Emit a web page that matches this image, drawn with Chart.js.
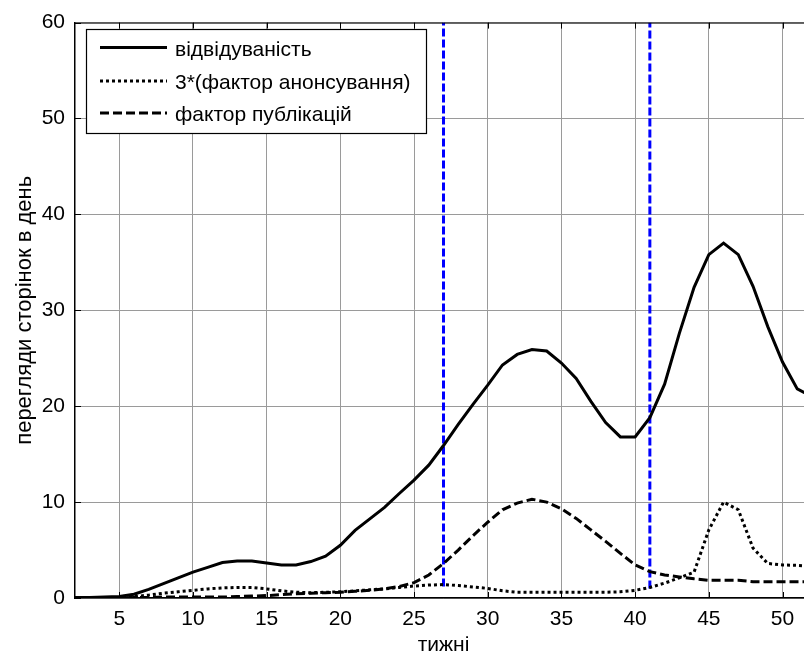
<!DOCTYPE html>
<html>
<head>
<meta charset="utf-8">
<script src="https://cdn.jsdelivr.net/npm/chart.js@4/dist/chart.umd.min.js"></script>
<style>
  html, body { margin: 0; padding: 0; background: #fff; overflow: hidden; }
  #wrap { width: 812px; height: 659px; }
</style>
</head>
<body>
<div id="wrap"><canvas id="chart" width="812" height="659"></canvas></div>
<script>
// тижні 2..52
const weeks = [];
for (let w = 2; w <= 52; w++) weeks.push(w);

// відвідуваність
const visits = [
  0.05, 0.05, 0.1, 0.15, 0.4, 0.9, 1.5, 2.1, 2.7, 3.2,
  3.7, 3.85, 3.85, 3.65, 3.45, 3.45, 3.8, 4.35, 5.5, 7.05,
  8.25, 9.45, 10.9, 12.3, 13.85, 15.9, 18.1, 20.2, 22.2, 24.3,
  25.4, 25.9, 25.75, 24.5, 22.9, 20.5, 18.3, 16.8, 16.8, 18.8,
  22.3, 27.6, 32.4, 35.8, 37.0, 35.8, 32.5, 28.3, 24.6, 21.8,
  21.0
];

// 3*(фактор анонсування)
const announce3 = [
  0, 0, 0, 0.05, 0.15, 0.3, 0.5, 0.65, 0.8, 0.95,
  1.05, 1.1, 1.1, 0.95, 0.75, 0.6, 0.55, 0.6, 0.65, 0.75,
  0.85, 0.95, 1.1, 1.25, 1.35, 1.4, 1.3, 1.15, 1.0, 0.75,
  0.6, 0.6, 0.6, 0.6, 0.6, 0.6, 0.6, 0.65, 0.8, 1.1,
  1.55, 2.1, 2.7, 7.1, 10.0, 9.2, 5.2, 3.6, 3.45, 3.4,
  3.3
];

// фактор публікацій
const publications = [
  0, 0, 0, 0, 0.05, 0.05, 0.1, 0.1, 0.1, 0.1,
  0.1, 0.15, 0.2, 0.25, 0.35, 0.45, 0.5, 0.55, 0.6, 0.7,
  0.8, 0.95, 1.2, 1.6, 2.4, 3.6, 5.0, 6.5, 7.9, 9.2,
  9.9, 10.3, 10.0, 9.3, 8.3, 7.1, 5.9, 4.65, 3.45, 2.75,
  2.4, 2.2, 2.0, 1.85, 1.85, 1.85, 1.7, 1.7, 1.7, 1.7,
  1.7
];

// вертикальні маркери (тижні) та їх нижні межі
const markerWeeks = [27, 41];
const markerBottoms = [1.2, 1.0];
const markerTop = 60;

const seriesLabels = ['відвідуваність', '3*(фактор анонсування)', 'фактор публікацій'];
const xTicks = [5, 10, 15, 20, 25, 30, 35, 40, 45, 50];
const yTicks = [0, 10, 20, 30, 40, 50, 60];

const FONT = '"Liberation Sans", Arial, sans-serif';
const FS = 21;

function pts(ys) {
  return weeks.map((w, i) => ({ x: w, y: ys[i] }));
}

const datasets = [
  { label: seriesLabels[0], data: pts(visits), borderColor: '#000', borderWidth: 3, borderDash: [] },
  { label: seriesLabels[1], data: pts(announce3), borderColor: '#000', borderWidth: 3, borderDash: [3, 3] },
  { label: seriesLabels[2], data: pts(publications), borderColor: '#000', borderWidth: 3, borderDash: [9, 4] }
];
markerWeeks.forEach((w, i) => {
  datasets.push({
    label: 'marker' + i,
    data: [{ x: w, y: markerBottoms[i] }, { x: w, y: markerTop }],
    borderColor: '#0000ff', borderWidth: 3, borderDash: [8, 3]
  });
});
datasets.forEach(d => { d.pointRadius = 0; d.fill = false; d.tension = 0; d.borderCapStyle = 'butt'; });

// рамка, внутрішні риски та легенда у стилі MATLAB
const frame = {
  id: 'frame',
  afterDraw(chart) {
    const { ctx, chartArea: a, scales } = chart;
    ctx.save();
    ctx.strokeStyle = '#000';
    ctx.lineWidth = 1;
    ctx.beginPath();
    ctx.moveTo(a.left, a.top + 0.5); ctx.lineTo(a.right, a.top + 0.5);
    ctx.stroke();
    ctx.beginPath();
    xTicks.forEach(v => {
      const x = Math.round(scales.x.getPixelForValue(v)) + 0.5;
      ctx.moveTo(x, a.top); ctx.lineTo(x, a.top + 6);
      ctx.moveTo(x, a.bottom); ctx.lineTo(x, a.bottom - 6);
    });
    yTicks.forEach(v => {
      const y = Math.round(scales.y.getPixelForValue(v)) + 0.5;
      ctx.moveTo(a.left, y); ctx.lineTo(a.left + 6, y);
    });
    ctx.stroke();

    // легенда
    const bx = 86.5, by = 29.5, bw = 340, bh = 104;
    ctx.fillStyle = '#fff';
    ctx.fillRect(bx, by, bw, bh);
    ctx.lineWidth = 1.2;
    ctx.strokeRect(bx, by, bw, bh);
    ctx.font = FS + 'px ' + FONT;
    ctx.textBaseline = 'alphabetic';
    ctx.fillStyle = '#000';
    const rowsY = [47.5, 81, 113];
    for (let i = 0; i < 3; i++) {
      const ds = chart.data.datasets[i];
      ctx.beginPath();
      ctx.lineWidth = ds.borderWidth;
      ctx.setLineDash(ds.borderDash);
      ctx.moveTo(100, rowsY[i]); ctx.lineTo(167, rowsY[i]);
      ctx.stroke();
      ctx.setLineDash([]);
      ctx.fillText(seriesLabels[i], 175, rowsY[i] + 8);
    }
    ctx.restore();
  }
};

new Chart(document.getElementById('chart'), {
  type: 'line',
  data: { datasets },
  plugins: [frame],
  options: {
    responsive: false,
    animation: false,
    layout: { padding: { top: 17, right: 0, bottom: 0, left: 0 } },
    plugins: { legend: { display: false }, tooltip: { enabled: false } },
    scales: {
      x: {
        type: 'linear', min: 2, max: 52,
        afterFit(s) { s.height = 61; },
        afterBuildTicks(s) { s.ticks = xTicks.map(v => ({ value: v })); },
        grid: { color: '#9a9a9a', lineWidth: 1, drawTicks: false },
        border: { display: true, color: '#000', width: 1.5 },
        ticks: { color: '#000', font: { family: FONT, size: FS }, padding: 9, maxRotation: 0 },
        title: { display: true, text: 'тижні', color: '#000', font: { family: FONT, size: FS }, padding: { top: 0, bottom: 1 } }
      },
      y: {
        type: 'linear', min: 0, max: 60,
        afterFit(s) { s.width = 75; },
        afterBuildTicks(s) { s.ticks = yTicks.map(v => ({ value: v })); },
        grid: { color: '#9a9a9a', lineWidth: 1, drawTicks: false },
        border: { display: true, color: '#000', width: 1.5 },
        ticks: { color: '#000', font: { family: FONT, size: FS }, padding: 10 },
        title: { display: true, text: 'перегляди сторінок в день', color: '#000', font: { family: FONT, size: 22 }, padding: { top: 12, bottom: 0 } }
      }
    }
  }
});
</script>
</body>
</html>
